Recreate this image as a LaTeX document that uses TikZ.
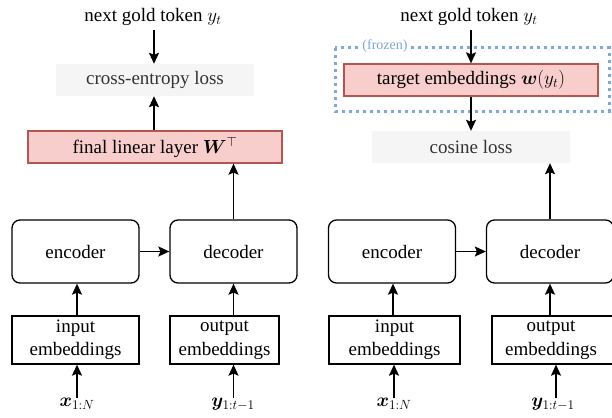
\RequirePackage{fix-cm}
\documentclass[tikz,border=0pt]{standalone}
\usepackage{amsmath,bm}
\usepackage{fontspec}
\setmainfont{Liberation Serif}
\usetikzlibrary{arrows.meta}
\definecolor{pinkfill}{HTML}{F8CECC}
\definecolor{pinkdraw}{HTML}{B85450}
\definecolor{grayfill}{HTML}{F5F5F5}
\definecolor{graytext}{HTML}{333333}
\definecolor{frozenblue}{HTML}{7EA6E0}
\newcommand{\bigtxt}{\fontsize{19}{23.5}\selectfont}
\tikzset{
  txt/.style={font=\bigtxt, inner sep=0pt, align=center},
  box/.style={txt, draw=black, line width=1.3pt},
  roundbox/.style={box, rounded corners=8pt},
  pinkbox/.style={txt, draw=pinkdraw, fill=pinkfill, line width=1.3pt},
  graybox/.style={txt, fill=grayfill, text=graytext},
  arr/.style={line width=1.6pt, -{Stealth[length=11pt,width=10pt,inset=2pt]}},
}
\begin{document}
\begin{tikzpicture}[x=1pt,y=-1pt]
\useasboundingbox (0,0) rectangle (612,417);
\clip (0,0) rectangle (612,417);
% ---------- left panel ----------
\node[txt] (goldL) at (153,17) {next gold token $y_t$};
\node[graybox, minimum width=198pt, minimum height=32pt] (ce) at (155,80) {cross-entropy loss};
\node[pinkbox, minimum width=254pt, minimum height=32pt] (fin) at (155,147) {final linear layer $\bm{W}^\top$};
\node[roundbox, minimum width=127pt, minimum height=63pt] (encL) at (75.5,251.5) {encoder};
\node[roundbox, minimum width=127pt, minimum height=63pt] (decL) at (233.5,251.5) {decoder};
\node[box, minimum width=127pt, minimum height=48pt] (inL) at (75.5,340) {input\\embeddings};
\node[box, minimum width=109pt, minimum height=48pt] (outL) at (224.5,340) {output\\embeddings};
\node[txt] (xL) at (77,404) {$\bm{x}_{1:N}$};
\node[txt] (yL) at (233,404) {$\bm{y}_{1:t-1}$};
\coordinate (goldLs) at (154,30);
\draw[arr] (goldLs) -- (ce.north -| goldLs);
\draw[arr] (fin.north -| goldLs) -- (ce.south -| goldLs);
\draw[arr] (decL.north) -- (decL.north |- fin.south);
\draw[arr] (encL.east) -- (decL.west);
\draw[arr] (inL.north -| 77,0) -- (encL.south -| 77,0);
\draw[arr] (outL.north -| decL.south) -- (decL.south);
\draw[arr] (xL.north) -- (inL.south -| xL.north);
\draw[arr] (yL.north -| decL.south) -- (outL.south -| decL.south);
% ---------- right panel ----------
\node[txt] (goldR) at (469,17) {next gold token $y_t$};
\node[pinkbox, minimum width=254pt, minimum height=32pt] (tgt) at (471,80) {target embeddings $\bm{w}(y_t)$};
\draw[frozenblue, line width=3pt, dash pattern=on 3pt off 4pt] (335,48) rectangle (609,111);
\node[font=\fontsize{14}{16}\selectfont, text=frozenblue, fill=white, inner sep=1pt] (frz) at (385,46) {(frozen)};
\node[graybox, minimum width=198pt, minimum height=32pt] (cos) at (471,147) {cosine loss};
\node[roundbox, minimum width=127pt, minimum height=63pt] (encR) at (392,251.5) {encoder};
\node[roundbox, minimum width=127pt, minimum height=63pt] (decR) at (550,251.5) {decoder};
\node[box, minimum width=131pt, minimum height=48pt] (inR) at (394.5,340) {input\\embeddings};
\node[box, minimum width=140pt, minimum height=48pt] (outR) at (562,340) {};
\node[txt] (outRt) at (551,340) {output\\embeddings};
\node[txt] (xR) at (394,404) {$\bm{x}_{1:N}$};
\node[txt] (yR) at (553,404) {$\bm{y}_{1:t-1}$};
\coordinate (goldRs) at (471,30);
\draw[arr] (goldRs) -- (tgt.north -| goldRs);
\draw[arr] (tgt.south -| goldRs) -- (cos.north -| goldRs);
\draw[arr] (decR.north) -- (decR.north |- cos.south);
\draw[arr] (encR.east) -- (decR.west);
\draw[arr] (inR.north -| 393,0) -- (encR.south -| 393,0);
\draw[arr] (outR.north -| decR.south) -- (decR.south);
\draw[arr] (xR.north) -- (inR.south -| xR.north);
\draw[arr] (yR.north -| 556,0) -- (outR.south -| 556,0);
\end{tikzpicture}
\end{document}
